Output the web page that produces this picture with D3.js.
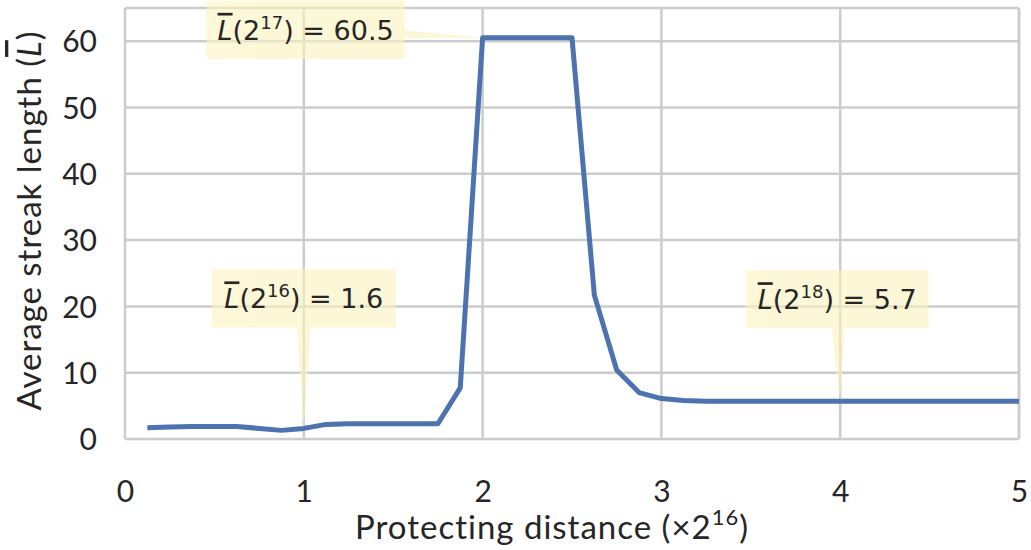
<!DOCTYPE html>
<html>
<head>
    <title>Average streak length</title>
    <script src="https://d3js.org/d3.v7.min.js"></script>
    <style>
        body { margin: 0; background-color: #FFFFFF; }
        text { font-family: Lato, "Open Sans", sans-serif; fill: #262626; }
        .grid line { stroke: #cccccc; stroke-width: 2.5px; }
        .line { fill: none; stroke: #4c72b0; stroke-width: 5px; stroke-linejoin: round; }
    </style>
</head>
<body>
<div id="chart"></div>
<script>
    // Data
    var distance = [0.125, 0.25, 0.375, 0.5, 0.625, 0.75, 0.875, 1.0,
                    1.125, 1.25, 1.375, 1.5, 1.625, 1.75, 1.875, 2.0,
                    2.125, 2.25, 2.375, 2.5, 2.625, 2.75, 2.875, 3.0,
                    3.125, 3.25, 3.375, 3.5, 3.625, 3.75, 3.875, 4.0,
                    4.125, 4.25, 4.375, 4.5, 4.625, 4.75, 4.875, 5.0];
    var streak = [1.7, 1.8, 1.9, 1.9, 1.9, 1.6, 1.3, 1.6,
                  2.2, 2.3, 2.3, 2.3, 2.3, 2.3, 7.7, 60.5,
                  60.5, 60.5, 60.5, 60.5, 21.7, 10.4, 7.0, 6.1,
                  5.8, 5.7, 5.7, 5.7, 5.7, 5.7, 5.7, 5.7,
                  5.7, 5.7, 5.7, 5.7, 5.7, 5.7, 5.7, 5.7];
    var xTicks = [0, 1, 2, 3, 4, 5];
    var yTicks = [0, 10, 20, 30, 40, 50, 60];

    // annotations: point, exponent, value label
    var noteX = [1, 2, 4];
    var noteY = [1.6, 60.5, 5.7];
    var noteExp = ["16", "17", "18"];
    var noteVal = ["1.6", "60.5", "5.7"];

    var margin = { top: 8, right: 12, bottom: 111, left: 125 };
    var width = 1031 - margin.left - margin.right;
    var height = 550 - margin.top - margin.bottom;

    var svg = d3.select("#chart")
        .append("svg")
        .attr("width", 1031)
        .attr("height", 550)
        .append("g")
        .attr("transform", "translate(" + margin.left + "," + margin.top + ")");

    var x = d3.scaleLinear().domain([0, 5]).range([0, width]);
    var y = d3.scaleLinear().domain([0, 65]).range([height, 0]);

    // Grid
    var grid = svg.append("g").attr("class", "grid");
    grid.selectAll(".gx").data(xTicks).enter().append("line")
        .attr("x1", d => x(d)).attr("x2", d => x(d))
        .attr("y1", 0).attr("y2", height);
    grid.selectAll(".gy").data(yTicks).enter().append("line")
        .attr("x1", 0).attr("x2", width)
        .attr("y1", d => y(d)).attr("y2", d => y(d));
    grid.append("line").attr("x1", 0).attr("x2", width).attr("y1", 0).attr("y2", 0);
    grid.append("line").attr("x1", width).attr("x2", width).attr("y1", 0).attr("y2", height);

    // Axes (labels only)
    var xAxis = svg.append("g")
        .attr("transform", "translate(0," + height + ")")
        .call(d3.axisBottom(x).tickValues(xTicks).tickFormat(d3.format("d")).tickSize(0).tickPadding(42));
    var yAxis = svg.append("g")
        .call(d3.axisLeft(y).tickValues(yTicks).tickSize(0).tickPadding(28));
    [xAxis, yAxis].forEach(function (a) {
        a.select(".domain").remove();
        a.selectAll("text").style("font-size", "30px").style("fill", "#262626")
            .style("font-family", "Lato, sans-serif");
    });
    yAxis.selectAll("text").attr("dy", "0.36em");

    // Line
    var pts = distance.map(function (d, i) { return [d, streak[i]]; });
    svg.append("path")
        .datum(pts)
        .attr("class", "line")
        .attr("d", d3.line().x(d => x(d[0])).y(d => y(d[1])));

    // Annotation boxes with wedge pointers
    var boxW = [184, 198, 183], boxH = 58;
    var offs = [[0, -130], [-177, -8], [-3, -102]];
    noteX.forEach(function (nx, i) {
        var tx = x(nx), ty = y(noteY[i]);
        var cx = tx + offs[i][0], cy = ty + offs[i][1];
        var g = svg.append("g").attr("opacity", 0.6);
        // wedge from box centre to the point
        var dx = tx - cx, dy = ty - cy, len = Math.sqrt(dx * dx + dy * dy);
        var nxv = -dy / len * 9, nyv = dx / len * 9;
        g.append("path")
            .attr("d", "M" + (cx + nxv) + "," + (cy + nyv) + "L" + tx + "," + ty +
                "L" + (cx - nxv) + "," + (cy - nyv) + "Z")
            .attr("fill", "#fbf3bd");
        g.append("rect")
            .attr("x", cx - boxW[i] / 2).attr("y", cy - boxH / 2)
            .attr("width", boxW[i]).attr("height", boxH)
            .attr("fill", "#fbf3bd");
        var t = svg.append("text")
            .attr("x", cx).attr("y", cy + 10)
            .attr("text-anchor", "middle")
            .style("font-size", "27px")
            .style("font-family", "'DejaVu Sans', sans-serif");
        t.append("tspan").attr("font-style", "italic").attr("text-decoration", "overline").text("L");
        t.append("tspan").text("(2");
        t.append("tspan").attr("dy", -11).style("font-size", "18px").text(noteExp[i]);
        t.append("tspan").attr("dy", 11).text(") = " + noteVal[i]);
    });

    // Axis titles
    svg.append("text")
        .attr("x", width / 2 - 20)
        .attr("y", height + 100)
        .attr("text-anchor", "middle")
        .style("font-size", "33px")
        .style("letter-spacing", "1px")
        .call(function (t) {
            t.append("tspan").text("Protecting distance (\u00d72");
            t.append("tspan").attr("dy", -14).style("font-size", "22px").text("16");
            t.append("tspan").attr("dy", 14).text(")");
        });

    svg.append("text")
        .attr("transform", "rotate(-90)")
        .attr("x", -height / 2 + 3)
        .attr("y", -margin.left + 41)
        .attr("text-anchor", "middle")
        .style("font-size", "33px")
        .style("letter-spacing", "1px")
        .call(function (t) {
            t.append("tspan").text("Average streak length (");
            t.append("tspan").attr("font-style", "italic").attr("text-decoration", "overline").text("L");
            t.append("tspan").text(")");
        });
</script>
</body>
</html>
